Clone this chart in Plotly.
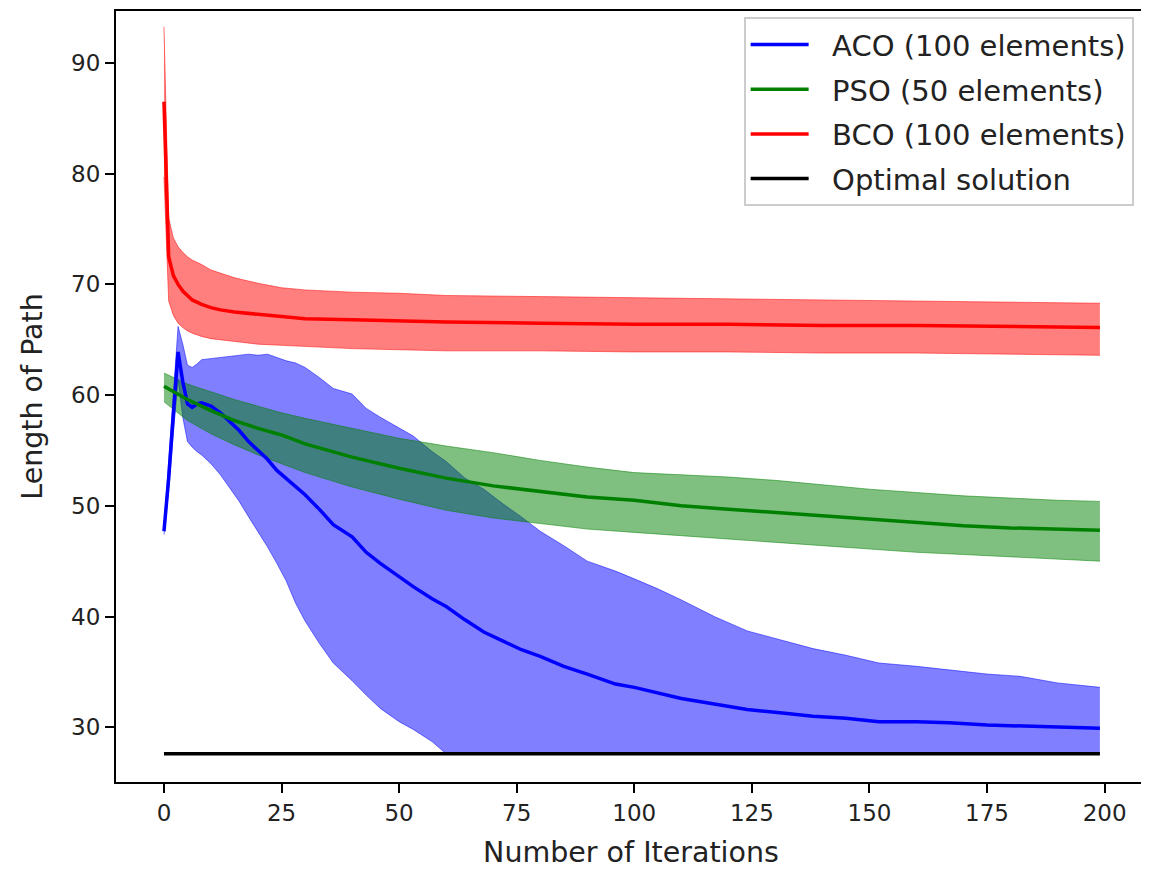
import plotly.graph_objects as go

# ---------------- data ----------------
aco_x = [0, 1, 2, 3, 4, 5, 6, 7, 8, 10, 12, 14, 16, 18, 20, 22, 24, 26, 28, 30, 33, 36, 40, 43, 46,
         50, 53, 57, 60, 64, 68, 72, 76, 80, 85, 90, 96, 100, 105, 110, 117, 124, 131, 138, 145,
         152, 160, 167, 175, 182, 190, 199]
aco_mean = [47.7, 52.5, 58.3, 63.9, 61.2, 59.2, 58.9, 59.2, 59.3, 59.0, 58.4, 57.6, 56.8, 55.8, 55.0,
            54.2, 53.2, 52.5, 51.8, 51.0, 49.7, 48.3, 47.2, 45.8, 44.8, 43.6, 42.7, 41.6, 40.9, 39.7,
            38.6, 37.8, 37.0, 36.4, 35.5, 34.8, 33.9, 33.6, 33.1, 32.6, 32.1, 31.6, 31.3, 31.0, 30.8,
            30.5, 30.5, 30.4, 30.2, 30.1, 30.0, 29.9]
aco_upper = [48.0, 53.8, 60.0, 66.2, 64.6, 62.7, 62.5, 62.8, 63.2, 63.3, 63.4, 63.5, 63.6, 63.7, 63.6,
             63.7, 63.4, 63.1, 62.9, 62.5, 61.6, 60.6, 60.1, 58.8, 58.0, 57.0, 56.3, 54.9, 54.0, 52.5,
             51.5, 50.2, 49.0, 47.7, 46.4, 45.0, 44.1, 43.4, 42.5, 41.5, 40.0, 38.7, 37.9, 37.1, 36.5,
             35.8, 35.5, 35.2, 34.8, 34.6, 34.0, 33.6]
aco_lower = [47.4, 51.3, 56.6, 61.4, 58.0, 55.8, 55.3, 54.9, 54.6, 53.8, 52.8, 51.6, 50.4, 49.0, 47.7,
             46.3, 44.8, 43.2, 41.2, 39.6, 37.6, 35.8, 34.2, 32.9, 31.7, 30.5, 29.8, 28.7, 27.6, 27.6,
             27.6, 27.6, 27.6, 27.6, 27.6, 27.6, 27.6, 27.6, 27.6, 27.6, 27.6, 27.6, 27.6, 27.6, 27.6,
             27.6, 27.6, 27.6, 27.6, 27.6, 27.6, 27.6]

pso_x = [0, 5, 10, 15, 20, 25, 30, 40, 50, 60, 70, 80, 90, 100, 110, 120, 130, 140, 150, 160,
         170, 180, 190, 199]
pso_mean = [60.8, 59.6, 58.6, 57.7, 57.0, 56.4, 55.6, 54.4, 53.4, 52.5, 51.8, 51.3, 50.8, 50.5,
            50.0, 49.7, 49.4, 49.1, 48.8, 48.5, 48.2, 48.0, 47.9, 47.8]
pso_upper = [62.0, 61.0, 60.3, 59.6, 59.0, 58.4, 57.9, 57.0, 56.1, 55.4, 54.8, 54.1, 53.5, 53.0,
             52.8, 52.6, 52.3, 51.9, 51.5, 51.2, 50.9, 50.7, 50.5, 50.4]
pso_lower = [59.4, 57.7, 56.5, 55.5, 54.6, 53.8, 53.0, 51.7, 50.6, 49.6, 48.9, 48.4, 47.9, 47.6,
             47.3, 47.0, 46.7, 46.4, 46.1, 45.8, 45.6, 45.4, 45.2, 45.0]

bco_x = [0, 1, 2, 3, 4, 5, 6, 8, 10, 12, 15, 20, 25, 30, 40, 50, 60, 80, 100, 120, 140, 160, 180, 199]
bco_mean = [86.5, 72.5, 70.8, 70.0, 69.4, 69.0, 68.6, 68.2, 67.9, 67.7, 67.5, 67.3, 67.1, 66.9,
            66.8, 66.7, 66.6, 66.5, 66.4, 66.4, 66.3, 66.3, 66.2, 66.1]
bco_upper = [93.3, 76.0, 74.2, 73.4, 72.9, 72.5, 72.2, 71.8, 71.3, 71.0, 70.6, 70.1, 69.7, 69.5,
             69.3, 69.2, 69.0, 68.9, 68.8, 68.7, 68.6, 68.5, 68.4, 68.3]
bco_lower = [79.7, 68.5, 67.2, 66.5, 66.1, 65.8, 65.6, 65.3, 65.1, 65.0, 64.8, 64.6, 64.5, 64.4,
             64.2, 64.1, 64.0, 64.0, 63.9, 63.9, 63.8, 63.8, 63.7, 63.6]

optimal_x = [0, 199]
optimal_value = 27.6

labels = ["ACO (100 elements)", "PSO (50 elements)", "BCO (100 elements)", "Optimal solution"]
x_ticks = [0, 25, 50, 75, 100, 125, 150, 175, 200]
y_ticks = [30, 40, 50, 60, 70, 80, 90]

# ---------------- figure ----------------
FONT = "DejaVu Sans"
PAD = "\u00a0\u00a0"  # small gap between legend line sample and label
fig = go.Figure()

series = [
    (aco_x, aco_mean, aco_upper, aco_lower, "#0000ff", "rgba(0,0,255,0.5)"),
    (pso_x, pso_mean, pso_upper, pso_lower, "#008000", "rgba(0,128,0,0.5)"),
    (bco_x, bco_mean, bco_upper, bco_lower, "#ff0000", "rgba(255,0,0,0.5)"),
]

# bands first
for xs, m, up, lo, col, fcol in series:
    fig.add_trace(go.Scatter(x=xs, y=lo, mode="lines", line=dict(color=fcol, width=1),
                             showlegend=False, hoverinfo="skip"))
    fig.add_trace(go.Scatter(x=xs, y=up, mode="lines", line=dict(color=fcol, width=1),
                             fill="tonexty", fillcolor=fcol, showlegend=False, hoverinfo="skip"))

# mean lines
for i, ((xs, m, up, lo, col, fcol), name) in enumerate(zip(series, labels[:3])):
    fig.add_trace(go.Scatter(x=xs, y=m, mode="lines", line=dict(color=col, width=3.5),
                             name=PAD + name, legendgroup="g%d" % i))

fig.add_trace(go.Scatter(x=optimal_x, y=[optimal_value] * len(optimal_x), mode="lines",
                         line=dict(color="#000000", width=3.5), name=PAD + labels[3],
                         legendgroup="g3"))

axis_common = dict(
    showgrid=False, zeroline=False, showline=True, linecolor="black", linewidth=2,
    mirror=True, ticks="outside", ticklen=9, tickwidth=2, tickcolor="black",
    tickfont=dict(family=FONT, size=23, color="#222222"),
)

# the page body adds an 8px offset, so the figure is sized/margined to compensate
fig.update_layout(
    width=1141, height=861,
    margin=dict(l=108, r=2, t=1, b=87),
    paper_bgcolor="white", plot_bgcolor="white",
    font=dict(family=FONT, color="#222222"),
    xaxis=dict(range=[-10.2, 208.8], tickvals=x_ticks,
               title=dict(text="Number of Iterations", font=dict(family=FONT, size=28.5), standoff=17),
               **axis_common),
    yaxis=dict(range=[25.05, 94.7], tickvals=y_ticks,
               title=dict(text="Length of Path", font=dict(family=FONT, size=28.5), standoff=20),
               **axis_common),
    legend=dict(x=0.988, y=0.992, xanchor="right", yanchor="top",
                bgcolor="rgba(255,255,255,0.8)", bordercolor="#cccccc", borderwidth=2,
                font=dict(family=FONT, size=29, color="#222222"), itemwidth=58,
                traceorder="grouped", tracegroupgap=4),
    hovermode=False,
)

fig.write_html("out.html")
